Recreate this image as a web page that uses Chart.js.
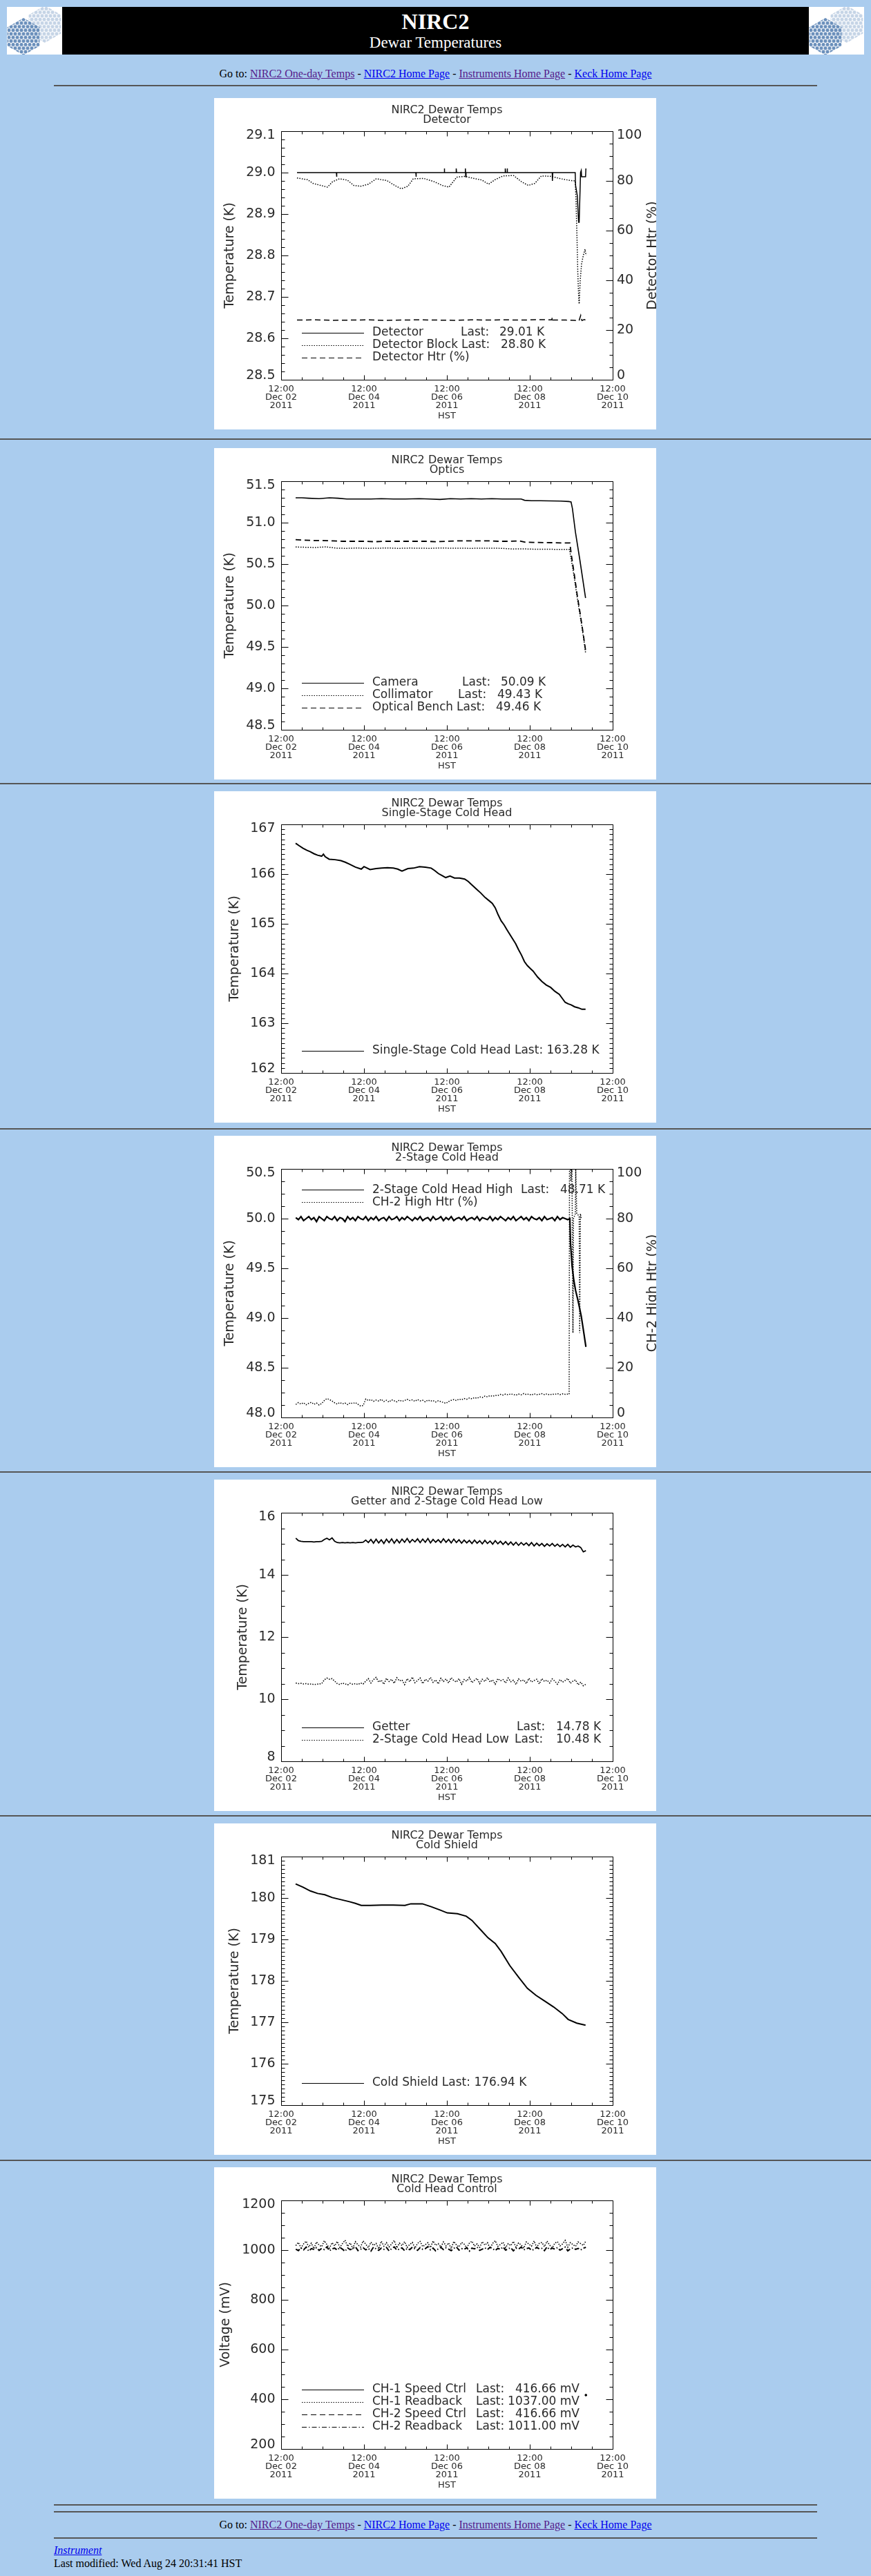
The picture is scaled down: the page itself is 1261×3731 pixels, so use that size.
<!DOCTYPE html>
<html><head><meta charset="utf-8">
<title>NIRC2 Dewar Temperatures</title>
<script src="https://cdn.jsdelivr.net/npm/chart.js@4.4.1/dist/chart.umd.min.js"></script>
<style>
html,body{margin:0;padding:0;width:1261px;height:3731px;overflow:hidden;background:#AACCEE;}
.hr{position:absolute;height:2px;background:#565656;}
.hr.s{left:78px;width:1105px;}
.hr.f{left:0;width:1261px;}
.goto{position:absolute;left:0;width:1261px;text-align:center;font:16px/18px 'Liberation Serif','Times New Roman',serif;color:#000;white-space:nowrap;}
a{text-decoration:underline;}
a.v{color:#551A8B;} a.u{color:#0000EE;}
canvas{position:absolute;left:310px;background:#fff;}
.logo{position:absolute;top:10px;width:80px;height:69px;background:#fff;}
</style></head>
<body>
<div class="logo" style="left:10px">
<svg width="80" height="69" viewBox="0 0 80 69">
 <defs>
  <pattern id="hd" width="6" height="10.4" patternUnits="userSpaceOnUse">
   <circle cx="3" cy="2.6" r="2.5" fill="#6a8fbb"/><circle cx="0" cy="7.8" r="2.5" fill="#6a8fbb"/><circle cx="6" cy="7.8" r="2.5" fill="#6a8fbb"/>
  </pattern>
  <pattern id="hl" width="6" height="10.4" patternUnits="userSpaceOnUse">
   <circle cx="3" cy="2.6" r="2.5" fill="#c5d4e6"/><circle cx="0" cy="7.8" r="2.5" fill="#c5d4e6"/><circle cx="6" cy="7.8" r="2.5" fill="#c5d4e6"/>
  </pattern>
 </defs>
 <polygon points="55,-2 78.4,11.5 78.4,38.5 55,52 31.6,38.5 31.6,11.5" fill="url(#hl)"/>
 <polygon points="24,16 47.4,29.5 47.4,56.5 24,70 0.6,56.5 0.6,29.5" fill="url(#hd)"/>
</svg></div>
<div style="position:absolute;left:90px;top:10px;width:1081px;height:69px;background:#000;color:#fff;text-align:center;font-family:'Liberation Serif','Times New Roman',serif;">
 <div style="position:absolute;left:0;width:1081px;top:3px;font-size:32px;line-height:36px;font-weight:bold;">NIRC2</div>
 <div style="position:absolute;left:0;width:1081px;top:38.5px;font-size:23px;line-height:26px;">Dewar Temperatures</div>
</div>
<div class="logo" style="left:1171px">
<svg width="80" height="69" viewBox="0 0 80 69">
 <polygon points="55,-2 78.4,11.5 78.4,38.5 55,52 31.6,38.5 31.6,11.5" fill="url(#hl)"/>
 <polygon points="24,16 47.4,29.5 47.4,56.5 24,70 0.6,56.5 0.6,29.5" fill="url(#hd)"/>
</svg></div>

<div class="goto" style="top:97.6px">Go to: <a class="v" href="#">NIRC2 One-day Temps</a> - <a class="u" href="#">NIRC2 Home Page</a> - <a class="v" href="#">Instruments Home Page</a> - <a class="u" href="#">Keck Home Page</a></div>
<div class="hr s" style="top:123px"></div>

<canvas id="c1" width="640" height="480" style="top:142px"></canvas>
<div class="hr f" style="top:635px"></div>
<canvas id="c2" width="640" height="480" style="top:649px"></canvas>
<div class="hr f" style="top:1134px"></div>
<canvas id="c3" width="640" height="480" style="top:1146px"></canvas>
<div class="hr f" style="top:1634px"></div>
<canvas id="c4" width="640" height="480" style="top:1645px"></canvas>
<div class="hr f" style="top:2131px"></div>
<canvas id="c5" width="640" height="480" style="top:2143px"></canvas>
<div class="hr f" style="top:2629px"></div>
<canvas id="c6" width="640" height="480" style="top:2641px"></canvas>
<div class="hr f" style="top:3128px"></div>
<canvas id="c7" width="640" height="480" style="top:3139px"></canvas>

<div class="hr s" style="top:3627px"></div>
<div class="hr s" style="top:3637px"></div>
<div class="goto" style="top:3648.3px">Go to: <a class="v" href="#">NIRC2 One-day Temps</a> - <a class="u" href="#">NIRC2 Home Page</a> - <a class="v" href="#">Instruments Home Page</a> - <a class="u" href="#">Keck Home Page</a></div>
<div class="hr s" style="top:3675px"></div>
<div style="position:absolute;left:78px;top:3685px;font:italic 16px/18px 'Liberation Serif','Times New Roman',serif;"><a class="u" href="#">Instrument</a></div>
<div style="position:absolute;left:78px;top:3704px;font:16px/18px 'Liberation Serif','Times New Roman',serif;color:#000;white-space:nowrap;">Last modified: Wed Aug 24 20:31:41 HST</div>

<script>
// ================= DATA (hours since 12:00 Dec 02 2011 HST) =================
const X_TICK_HOURS = [0,12,24,36,48,60,72,84,96,108,120,132,144,156,168,180,192];
const X_MAJOR_HOURS = [0,48,96,144,192];
const X_LABELS = [['12:00','Dec 02','2011'],['12:00','Dec 04','2011'],['12:00','Dec 06','2011'],['12:00','Dec 08','2011'],['12:00','Dec 10','2011']];

const HOURS_G = [8.5,10,11.5,13,14.5,16,17.5,19,20.5,22,
 23.5,25,26.5,28,29.5,31,32.5,34,35.5,37,
 38.5,40,41.5,43,44.5,46,47.5,49,50.5,52,
 53.5,55,56.5,58,59.5,61,62.5,64,65.5,67,
 68.5,70,71.5,73,74.5,76,77.5,79,80.5,82,
 83.5,85,86.5,88,89.5,91,92.5,94,95.5,97,
 98.5,100,101.5,103,104.5,106,107.5,109,110.5,112,
 113.5,115,116.5,118,119.5,121,122.5,124,125.5,127,
 128.5,130,131.5,133,134.5,136,137.5,139,140.5,142,
 143.5,145,146.5,148,149.5,151,152.5,154,155.5,157,
 158.5,160,161.5,163,164.5,166,167.5,169,170.5,172,
 173.5,175,176.5];

// --- Chart 1: Detector ---
const Y1_TICKS = [28.5,28.6,28.7,28.8,28.9,29.0,29.1];
const Y1R_TICKS = [0,20,40,60,80,100];
const DET_T = [9.2,32.0,32.1,32.3,78.0,78.1,78.3,94.4,94.5,94.7,101.3,101.4,101.6,106.6,106.7,106.9,107.1,129.7,129.8,130.0,130.8,130.9,131.1,157.0,157.1,157.3,170.3,170.5,171.5,172.3,172.6,173.4,173.8,174.0,175.5,176.3,176.5];
const DET_V = [29.00,29.00,28.99,29.00,29.00,28.99,29.00,29.00,29.01,29.00,29.00,29.01,29.00,29.00,29.01,28.99,29.00,29.00,29.01,29.00,29.00,29.01,29.00,29.00,28.98,29.00,29.00,28.97,28.945,28.88,28.88,29.00,29.005,28.99,28.99,28.99,29.01];
const BLK_T = [9.2,12.2,15.3,18.4,23.0,26.8,29.8,33.7,38.3,42.1,45.9,50.5,55.1,61.2,65.8,69.6,73.4,76.5,82.6,88.7,93.3,97.2,101.7,106.3,111.7,116.3,120.1,123.9,128.5,134.6,139.2,143.1,146.9,150.7,156.1,162.2,167.5,170.3,170.8,171.3,171.8,172.3,172.6,173.2,174.0,175.0,176.0,176.6];
const BLK_V = [28.987,28.985,28.983,28.974,28.969,28.965,28.978,28.985,28.982,28.969,28.967,28.972,28.985,28.981,28.969,28.961,28.967,28.985,28.986,28.978,28.969,28.965,28.989,28.991,28.986,28.982,28.972,28.983,28.992,28.993,28.978,28.969,28.974,28.992,28.991,28.985,28.981,28.980,28.93,28.85,28.76,28.70,28.683,28.74,28.78,28.80,28.815,28.80];
const HTR1_T = [9.2,20,30,40,50,60,70,80,90,100,110,120,130,140,150,156.8,157.0,157.3,165,170,172.5,173.5,174.2,175.5,176.6];
const HTR1_V = [24.0,24.1,23.9,24.0,24.1,23.9,24.0,24.1,24.0,23.9,24.1,24.0,24.1,24.0,24.2,24.1,25.2,24.0,24.0,23.9,23.7,25.9,23.8,24.2,23.9];

// --- Chart 2: Optics ---
const Y2_TICKS = [48.5,49.0,49.5,50.0,50.5,51.0,51.5];
const CAM_T = [8.4,12,16,22,28,33,38,45,52,58,65,72,80,86,92,98,104,110,116,122,128,134,139,141,145,150,156,162,166.5,167.9,168.7,170.4,173.0,176.3];
const CAM_V = [51.30,51.30,51.295,51.29,51.30,51.295,51.285,51.285,51.285,51.29,51.285,51.285,51.29,51.285,51.28,51.29,51.285,51.29,51.285,51.29,51.285,51.285,51.285,51.27,51.265,51.265,51.262,51.26,51.255,51.25,51.17,50.89,50.55,50.09];
const COL_T = [8.4,14,20,26,32,38,44,50,56,62,68,74,80,86,92,98,104,110,116,122,128,134,140,146,152,158,164,167.0,167.8,169.6,171.5,173.2,175.0,176.3];
const COL_V = [50.706,50.703,50.70,50.708,50.692,50.69,50.694,50.69,50.692,50.694,50.69,50.693,50.692,50.69,50.694,50.692,50.692,50.69,50.692,50.692,50.69,50.682,50.684,50.68,50.68,50.678,50.678,50.676,50.58,50.36,50.09,49.87,49.63,49.43];
const BEN_T = [8.4,12,18,24,30,36,42,48,54,60,66,72,78,84,90,96,102,108,114,120,126,132,138,141,146,152,158,164,167.2,168.0,169.6,171.5,173.2,175.0,176.3];
const BEN_V = [50.795,50.79,50.785,50.785,50.78,50.775,50.775,50.775,50.77,50.775,50.775,50.775,50.775,50.775,50.77,50.775,50.78,50.78,50.78,50.78,50.775,50.775,50.78,50.765,50.762,50.76,50.758,50.755,50.755,50.62,50.40,50.12,49.90,49.65,49.46];

// --- Chart 3: Single-Stage Cold Head ---
const Y3_TICKS = [162,163,164,165,166,167];
const SS_T = [8.4,10.5,12.7,14.8,16.9,19.0,21.1,23.5,24.5,25.5,27.8,31.2,34.6,37.1,39.6,43.0,46.4,48.0,51.5,55.0,58.2,61.6,65.0,67.5,70.0,73.4,76.7,80.1,83.5,86.9,89.0,91.1,93.2,95.3,97.8,100.4,103.3,106.3,108.4,110.5,113.0,115.6,118.1,120.6,122.3,124.0,125.7,127.4,129.1,130.8,133.3,135.8,137.5,139.2,140.9,142.6,144.3,145.9,148.5,151.0,153.5,156.1,158.6,161.1,162.8,164.5,166.2,167.9,170.0,172.1,174.2,176.3];
const SS_V = [166.62,166.57,166.52,166.48,166.45,166.41,166.38,166.36,166.40,166.35,166.30,166.29,166.27,166.24,166.20,166.14,166.10,166.15,166.09,166.11,166.12,166.13,166.12,166.10,166.06,166.11,166.12,166.15,166.14,166.12,166.07,166.01,165.97,165.93,165.96,165.92,165.92,165.90,165.85,165.78,165.70,165.62,165.53,165.46,165.41,165.32,165.18,165.06,164.98,164.88,164.74,164.60,164.48,164.37,164.24,164.16,164.10,164.05,163.93,163.84,163.77,163.72,163.64,163.58,163.50,163.42,163.39,163.37,163.33,163.31,163.28,163.28];

// --- Chart 4: 2-Stage Cold Head ---
const Y4_TICKS = [48.0,48.5,49.0,49.5,50.0,50.5];
const Y4R_TICKS = [0,20,40,60,80,100];
const HI_V = [50.01,49.99,50.02,49.98,50.00,50.02,49.99,50.01,49.97,50.02,
 50.00,49.98,50.02,50.00,49.99,50.02,49.98,50.01,50.00,49.97,
 50.02,49.99,50.01,49.98,50.02,50.00,49.99,50.02,49.98,50.01,
 49.99,50.02,49.98,50.00,50.01,49.98,50.02,49.99,50.00,50.02,
 49.98,50.01,49.99,50.02,50.00,49.98,50.01,49.99,50.02,49.98,
 50.00,50.01,49.98,50.02,49.99,50.00,50.02,49.98,50.01,49.99,
 50.02,49.98,50.00,50.01,49.99,50.02,49.98,50.00,50.01,49.99,
 50.02,49.98,50.01,50.00,49.99,50.02,49.98,50.01,49.99,50.02,
 50.00,49.98,50.01,49.99,50.02,49.98,50.00,50.02,49.99,50.01,
 49.98,50.02,50.00,49.99,50.01,49.98,50.02,49.99,50.00,50.01,
 49.98,50.02,49.99,50.01,50.00,49.99];
const HI_TAIL_T = [167.2,167.6,168.5,169.5,170.5,172.0,173.8,175.3,176.5];
const HI_TAIL_V = [50.00,49.75,49.52,49.38,49.28,49.17,49.02,48.85,48.71];
const HTR2_V = [5.2,6.0,5.4,5.9,5.1,5.7,6.1,5.3,5.8,5.0,5.6,
 6.8,7.6,7.2,6.6,
 5.9,5.4,6.0,5.5,5.8,5.2,5.9,5.6,6.0,5.3,
 4.6,4.8,
 7.4,6.8,7.2,6.5,7.0,6.6,7.3,6.4,6.9,6.2,7.1,6.7,6.3,7.0,6.5,6.8,
 7.3,6.8,7.1,6.5,7.2,6.7,6.9,6.3,7.0,6.6,6.8,6.2,6.7,6.4,6.0,5.7,6.4,
 6.9,7.2,6.8,7.4,7.1,7.6,7.3,7.8,7.5,8.0,7.7,8.3,8.0,8.6,8.3,8.8,8.5,8.9,
 8.8,9.3,9.0,9.4,9.1,9.5,9.2,9.0,9.4,9.1,9.6,9.2,9.4,9.0,9.5,9.2,9.3,9.6,9.2,9.5,9.1,9.4,9.3,9.6,9.2,9.5,9.3,9.4];
const HTR2_TAIL_T = [166.8,167.0,167.6,167.8,168.4,168.6,169.0,169.3,170.4,170.6,171.2,172.6,172.9,173.3,173.8];
const HTR2_TAIL_V = [9.3,100,100,95,100,82,34,80,82,100,82,81,34,82,80];

// --- Chart 5: Getter and 2-Stage Cold Head Low ---
const Y5_TICKS = [8,10,12,14,16];
const GET_V = [15.18,15.10,15.08,15.07,15.07,15.07,15.07,15.06,15.07,15.07,
 15.08,15.14,15.18,15.13,15.19,15.08,15.04,15.03,15.04,15.03,
 15.04,15.03,15.04,15.03,15.04,15.04,15.05,
 15.12,15.04,15.14,15.02,15.15,15.03,15.13,15.01,15.15,15.04,
 15.16,15.02,15.14,15.03,15.15,15.05,15.17,15.04,15.14,15.06,
 15.16,15.04,15.15,15.05,15.17,15.03,15.14,15.05,15.13,15.04,
 15.16,15.05,15.14,15.03,15.15,15.04,15.13,15.02,15.12,15.03,
 15.11,15.01,15.12,15.02,15.10,15.00,15.11,15.01,15.09,14.99,
 15.10,15.00,15.08,14.98,15.07,14.97,15.06,14.96,15.05,14.95,
 15.04,14.96,15.03,14.94,15.04,14.93,15.02,14.94,15.01,14.92,
 15.00,14.93,15.01,14.92,14.99,14.91,14.98,14.90,14.98,14.89,
 14.96,14.90,14.93,14.88,14.74,14.78];
const LOW_V = [10.52,10.50,10.51,10.49,10.50,10.48,10.49,10.47,10.48,10.49,10.50,
 10.62,10.68,10.64,10.66,10.58,
 10.50,10.47,10.52,10.49,10.46,10.51,10.48,10.50,10.47,10.52,10.49,
 10.58,10.66,10.52,10.63,10.70,10.55,10.61,10.48,10.67,10.57,
 10.64,10.51,10.69,10.59,10.62,10.47,10.66,10.56,10.71,10.53,
 10.60,10.68,10.50,10.64,10.58,10.70,10.54,10.62,10.49,10.67,
 10.57,10.65,10.52,10.69,10.60,10.55,10.66,10.48,10.63,10.58,
 10.70,10.53,10.61,10.67,10.50,10.64,10.57,10.69,10.55,10.62,
 10.48,10.66,10.59,10.63,10.52,10.68,10.56,10.61,10.47,10.65,
 10.58,10.62,10.50,10.67,10.55,10.60,10.64,10.49,10.66,10.57,
 10.61,10.52,10.65,10.58,10.48,10.63,10.55,10.60,10.67,10.51,
 10.58,10.62,10.46,10.55,10.43,10.48];

// --- Chart 6: Cold Shield ---
const Y6_TICKS = [175,176,177,178,179,180,181];
const CS_T = [8.4,12.7,16.9,21.1,25.3,29.6,34.6,39.6,43.0,46.4,51.5,58.2,65.0,71.7,75.1,81.8,86.9,92.0,96.2,102.1,107.2,110.5,115.6,119.8,124.0,127.4,132.4,137.5,142.6,147.6,152.7,157.8,162.8,166.2,171.2,176.3];
const CS_V = [180.34,180.26,180.17,180.11,180.08,180.01,179.96,179.91,179.87,179.82,179.82,179.83,179.83,179.82,179.86,179.86,179.79,179.71,179.64,179.62,179.56,179.46,179.23,179.04,178.90,178.71,178.37,178.09,177.82,177.65,177.51,177.37,177.21,177.07,176.98,176.93];

// --- Chart 7: Cold Head Control ---
const Y7_TICKS = [200,400,600,800,1000,1200];
const CH1RB_V = [1018,1031,1009,1025,1036,1012,1028,1006,1033,1020,
 1014,1038,1022,1008,1030,1017,1035,1011,1026,1040,
 1015,1029,1007,1034,1021,1012,1037,1024,1010,1032,
 1019,1027,1005,1036,1016,1030,1013,1025,1039,1009,
 1028,1018,1034,1011,1023,1031,1008,1027,1035,1014,
 1022,1030,1010,1037,1019,1026,1012,1033,1017,1029,
 1006,1035,1021,1013,1031,1024,1009,1028,1036,1016,
 1025,1011,1034,1020,1030,1007,1027,1038,1015,1023,
 1032,1010,1026,1018,1035,1012,1029,1021,1008,1033,
 1024,1016,1037,1011,1027,1031,1014,1036,1020,1009,
 1028,1034,1017,1025,1039,1012,1030,1022,1015,1033,
 1026,1019,1037];
const CH2RB_V = [1004,998,1009,1001,1012,996,1006,1003,1010,999,
 1007,1002,1013,997,1005,1008,1000,1011,1004,995,
 1009,1002,1006,1014,998,1003,1010,1001,1007,996,
 1012,1005,999,1008,1003,1011,997,1006,1013,1000,
 1004,1009,998,1007,1002,1012,1005,999,1010,1003,
 1006,1014,1001,1008,997,1005,1011,1002,1009,1004,
 998,1007,1013,1000,1006,1003,1010,996,1008,1005,
 1012,999,1004,1009,1002,1011,1006,998,1007,1003,
 1013,1000,1005,1010,997,1008,1004,1012,1001,1006,
 1009,999,1003,1011,1005,1007,998,1013,1002,1008,
 1004,1010,1000,1006,1012,997,1005,1009,1003,1007,
 1001,1008,1011];
const SPD_T = [176.5];
const SPD1_V = [416.66];
const SPD2_V = [416.66];

// ================= RENDERING =================
const FONT = "'DejaVu Sans', Verdana, sans-serif";
const INK = '#000';
const TXT = '#2a2a2a';
const DOT = [1.5,2], DASH = [8,5], DASHDOT = [7,3,1.5,3];
const CFGS = {};

function series(label, T, V, dash, width, axis) {
  return {label, data: T.map((t, i) => ({x: t, y: V[i]})), borderColor: INK, backgroundColor: INK,
    borderWidth: width, borderDash: dash, pointRadius: 0, tension: 0, fill: false, yAxisID: axis || 'y'};
}

const idlPlugin = {
  id: 'idl',
  afterDraw(chart) {
    const c = CFGS[chart.canvas.id]; if (!c) return;
    const ctx = chart.ctx, a = chart.chartArea;
    const xs = chart.scales.x, ys = chart.scales.y, y2 = chart.scales.y2;
    const L = Math.round(a.left) + 0.5, R = Math.round(a.right) + 0.5, T = Math.round(a.top) + 0.5, B = Math.round(a.bottom) + 0.5;
    ctx.save();
    ctx.strokeStyle = INK; ctx.lineWidth = 1; ctx.setLineDash([]);
    ctx.beginPath();
    ctx.moveTo(L, T); ctx.lineTo(R, T); ctx.lineTo(R, B); ctx.lineTo(L, B); ctx.closePath();
    X_TICK_HOURS.forEach(v => {
      const p = Math.round(xs.getPixelForValue(v)) + 0.5;
      const len = X_MAJOR_HOURS.includes(v) ? 7 : 4;
      ctx.moveTo(p, B); ctx.lineTo(p, B - len);
      ctx.moveTo(p, T); ctx.lineTo(p, T + len);
    });
    const yt = (sc, ticks, minor, x0, dir) => {
      ticks.forEach((v, i) => {
        const p = Math.round(sc.getPixelForValue(v)) + 0.5;
        ctx.moveTo(x0, p); ctx.lineTo(x0 + dir * 10, p);
        if (i < ticks.length - 1) {
          for (let k = 1; k < minor; k++) {
            const q = Math.round(sc.getPixelForValue(v + (ticks[i + 1] - v) * k / minor)) + 0.5;
            ctx.moveTo(x0, q); ctx.lineTo(x0 + dir * 5, q);
          }
        }
      });
    };
    yt(ys, c.yTicks, c.yMinor, L, 1);
    if (y2) yt(y2, c.y2Ticks, c.y2Minor, R, -1); else yt(ys, c.yTicks, c.yMinor, R, -1);
    ctx.stroke();

    ctx.fillStyle = TXT; ctx.font = '19px ' + FONT; ctx.textBaseline = 'middle';
    const lab = (sc, ticks, dec, x, align) => {
      ctx.textAlign = align;
      ticks.forEach((v, i) => {
        let p = sc.getPixelForValue(v);
        if (i === 0) p -= 6;
        if (i === ticks.length - 1) p += 6;
        ctx.fillText(v.toFixed(dec), x, p);
      });
    };
    lab(ys, c.yTicks, c.yDec, a.left - 8.5, 'right');
    if (y2) lab(y2, c.y2Ticks, 0, a.right + 6, 'left');

    if (c.rightTitle) {
      ctx.save();
      ctx.translate(640, (a.top + a.bottom) / 2);
      ctx.rotate(-Math.PI / 2);
      ctx.textAlign = 'center'; ctx.textBaseline = 'alphabetic';
      ctx.fillText(c.rightTitle, 0, 0);
      ctx.restore();
    }

    ctx.font = '17px ' + FONT; ctx.textBaseline = 'middle';
    c.legend.forEach((it, i) => {
      const y = c.legY + i * 18;
      const yy = Math.round(y) + 0.5;
      ctx.beginPath(); ctx.setLineDash(it.dash); ctx.lineWidth = 1.2;
      ctx.moveTo(127, yy); ctx.lineTo(217, yy); ctx.stroke(); ctx.setLineDash([]);
      ctx.textAlign = 'left';
      if (it.lx) {
        ctx.fillText(it.text, 229, y, it.lx - 234);
        ctx.fillText('Last:', it.lx, y);
        if (c.valRight) { ctx.textAlign = 'right'; ctx.fillText(it.val, c.valRight, y); }
        else ctx.fillText(it.val, it.vx, y);
      } else {
        ctx.fillText(it.text, 229, y);
      }
    });
    ctx.restore();
  }
};

function makeChart(id, c) {
  CFGS[id] = c;
  const scales = {
    x: {type: 'linear', min: 0, max: 192,
      afterBuildTicks: s => { s.ticks = X_TICK_HOURS.map(v => ({value: v})); },
      afterFit: s => { s.height = 72; },
      ticks: {autoSkip: false, maxRotation: 0, minRotation: 0, padding: 8, color: TXT,
        font: {family: FONT, size: 13, lineHeight: 0.9},
        callback: v => { const i = X_MAJOR_HOURS.indexOf(v); return i < 0 ? '' : X_LABELS[i]; }},
      grid: {display: false, drawTicks: false}, border: {display: false},
      title: {display: true, text: 'HST', color: TXT, font: {family: FONT, size: 13, lineHeight: 1.2}, padding: {top: 0, bottom: 11.2}}},
    y: {type: 'linear', position: 'left', min: c.yTicks[0], max: c.yTicks[c.yTicks.length - 1],
      afterFit: s => { s.width = 97; },
      ticks: {display: false}, grid: {display: false, drawTicks: false}, border: {display: false},
      title: {display: true, text: c.yTitle, color: TXT, font: {family: FONT, size: 19, lineHeight: 1.2}, padding: {top: c.yTitlePad, bottom: 0}}}
  };
  if (c.y2Ticks) {
    scales.y2 = {type: 'linear', position: 'right', min: c.y2Ticks[0], max: c.y2Ticks[c.y2Ticks.length - 1],
      afterFit: s => { s.width = 63; },
      ticks: {display: false}, grid: {display: false, drawTicks: false}, border: {display: false}, title: {display: false}};
  }
  new Chart(document.getElementById(id), {
    type: 'line',
    data: {datasets: c.datasets},
    options: {
      responsive: false, animation: false, devicePixelRatio: 1, events: [],
      layout: {padding: {left: 0, top: 0, bottom: 0, right: c.y2Ticks ? 0 : 63}},
      plugins: {
        legend: {display: false}, tooltip: {enabled: false},
        title: {display: true, fullSize: false, text: ['NIRC2 Dewar Temps', c.sub], color: TXT,
          font: {family: FONT, size: 16, weight: 'normal', lineHeight: 0.90625}, padding: {top: 10.5, bottom: 8.5}}
      },
      scales
    },
    plugins: [idlPlugin]
  });
}

makeChart('c1', {
  sub: 'Detector', yTitle: 'Temperature (K)', yTitlePad: 11.6,
  yTicks: Y1_TICKS, yDec: 1, yMinor: 5, y2Ticks: Y1R_TICKS, y2Minor: 4, rightTitle: 'Detector Htr (%)',
  datasets: [series('Detector', DET_T, DET_V, [], 1.5), series('Detector Block', BLK_T, BLK_V, DOT, 1.5), series('Detector Htr (%)', HTR1_T, HTR1_V, DASH, 1.5, 'y2')],
  legY: 339.5,
  legend: [{dash: [], text: 'Detector', lx: 357, val: '29.01 K', vx: 413},
           {dash: DOT, text: 'Detector Block', lx: 358, val: '28.80 K', vx: 415},
           {dash: DASH, text: 'Detector Htr (%)'}]
});
makeChart('c2', {
  sub: 'Optics', yTitle: 'Temperature (K)', yTitlePad: 11.6,
  yTicks: Y2_TICKS, yDec: 1, yMinor: 5,
  datasets: [series('Camera', CAM_T, CAM_V, [], 1.6), series('Collimator', COL_T, COL_V, DOT, 1.5), series('Optical Bench', BEN_T, BEN_V, DASH, 1.8)],
  legY: 339.5,
  legend: [{dash: [], text: 'Camera', lx: 359, val: '50.09 K', vx: 415},
           {dash: DOT, text: 'Collimator', lx: 353, val: '49.43 K', vx: 410},
           {dash: DASH, text: 'Optical Bench', lx: 351, val: '49.46 K', vx: 408}]
});
makeChart('c3', {
  sub: 'Single-Stage Cold Head', yTitle: 'Temperature (K)', yTitlePad: 18.6,
  yTicks: Y3_TICKS, yDec: 0, yMinor: 10,
  datasets: [series('Single-Stage Cold Head', SS_T, SS_V, [], 2)],
  legY: 375.5,
  legend: [{dash: [], text: 'Single-Stage Cold Head Last: 163.28 K'}]
});
makeChart('c4', {
  sub: '2-Stage Cold Head', yTitle: 'Temperature (K)', yTitlePad: 11.6,
  yTicks: Y4_TICKS, yDec: 1, yMinor: 4, y2Ticks: Y4R_TICKS, y2Minor: 4, rightTitle: 'CH-2 High Htr (%)',
  datasets: [series('2-Stage Cold Head High', HOURS_G.slice(0, 106).concat(HI_TAIL_T), HI_V.concat(HI_TAIL_V), [], 2.2),
             series('CH-2 High Htr (%)', HOURS_G.slice(0, 106).concat(HTR2_TAIL_T), HTR2_V.concat(HTR2_TAIL_V), DOT, 1.5, 'y2')],
  legY: 78.3,
  legend: [{dash: [], text: '2-Stage Cold Head High', lx: 444, val: '48.71 K', vx: 501},
           {dash: DOT, text: 'CH-2 High Htr (%)'}]
});
makeChart('c5', {
  sub: 'Getter and 2-Stage Cold Head Low', yTitle: 'Temperature (K)', yTitlePad: 30.6,
  yTicks: Y5_TICKS, yDec: 0, yMinor: 4,
  datasets: [series('Getter', HOURS_G, GET_V, [], 1.8), series('2-Stage Cold Head Low', HOURS_G, LOW_V, DOT, 1.6)],
  legY: 358.5,
  legend: [{dash: [], text: 'Getter', lx: 438, val: '14.78 K', vx: 495},
           {dash: DOT, text: '2-Stage Cold Head Low', lx: 435, val: '10.48 K', vx: 495}]
});
makeChart('c6', {
  sub: 'Cold Shield', yTitle: 'Temperature (K)', yTitlePad: 18.6,
  yTicks: Y6_TICKS, yDec: 0, yMinor: 10,
  datasets: [series('Cold Shield', CS_T, CS_V, [], 2)],
  legY: 375.5,
  legend: [{dash: [], text: 'Cold Shield Last: 176.94 K'}]
});
const spd1 = series('CH-1 Speed Ctrl', SPD_T, SPD1_V, [], 1); spd1.pointRadius = 1.2;
const spd2 = series('CH-2 Speed Ctrl', SPD_T, SPD2_V, DASH, 1); spd2.pointRadius = 1.2;
makeChart('c7', {
  sub: 'Cold Head Control', yTitle: 'Voltage (mV)', yTitlePad: 6.1,
  yTicks: Y7_TICKS, yDec: 0, yMinor: 4, valRight: 529,
  datasets: [spd1, series('CH-1 Readback', HOURS_G, CH1RB_V, DOT, 1.6), spd2, series('CH-2 Readback', HOURS_G, CH2RB_V, DASHDOT, 2)],
  legY: 321.5,
  legend: [{dash: [], text: 'CH-1 Speed Ctrl', lx: 379, val: '416.66 mV'},
           {dash: DOT, text: 'CH-1 Readback', lx: 379, val: '1037.00 mV'},
           {dash: DASH, text: 'CH-2 Speed Ctrl', lx: 379, val: '416.66 mV'},
           {dash: DASHDOT, text: 'CH-2 Readback', lx: 379, val: '1011.00 mV'}]
});
</script>
</body></html>
